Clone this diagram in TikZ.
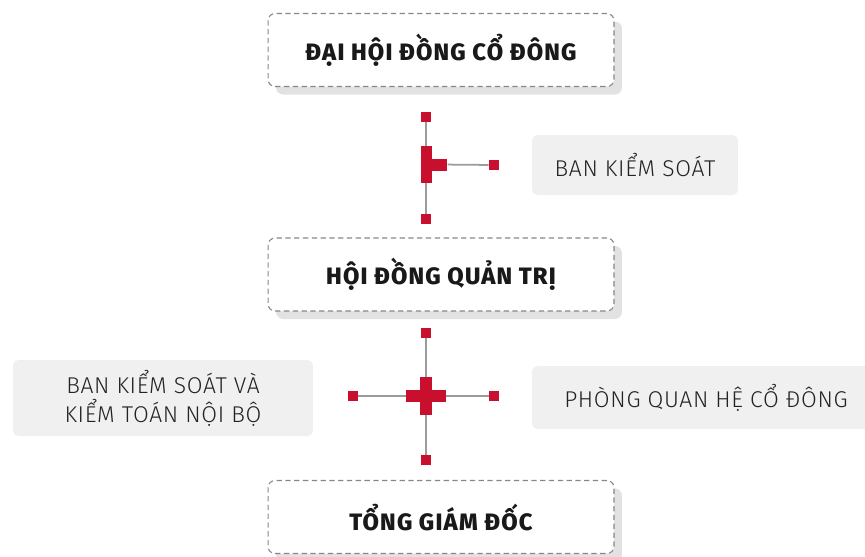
\documentclass[tikz,border=0pt]{standalone}
\usepackage{fontspec}
\setmainfont{Fira Sans}
\newfontfamily\titlefont{Fira Sans ExtraBold}[LetterSpace=5]
\newfontfamily\lightfont{Fira Sans Light}[LetterSpace=3]
\usetikzlibrary{positioning, shadows}
\definecolor{crimson}{RGB}{200,16,46}
\definecolor{boxgray}{RGB}{240,240,240}
\definecolor{shadowgray}{RGB}{226,226,226}
\definecolor{dashgray}{RGB}{135,135,135}
\definecolor{linegray}{RGB}{155,155,155}
\definecolor{textgray}{RGB}{35,35,35}
\tikzset{
  mainbox/.style={draw=dashgray, dash pattern=on 3pt off 2pt, line width=0.6pt, rounded corners=4pt,
    fill=white, minimum width=6.92cm, minimum height=1.46cm,
    drop shadow={shadow xshift=0.16cm, shadow yshift=-0.16cm, fill=shadowgray, opacity=1},
    font=\titlefont\fontsize{13.5}{16}\selectfont, text=black!90},
  sidebox/.style={fill=boxgray, rounded corners=3pt, align=center, text=textgray,
    font=\lightfont\fontsize{13}{16.5}\selectfont},
  sq/.style={fill=crimson, minimum size=0.2cm, inner sep=0pt},
  bar/.style={fill=crimson, inner sep=0pt},
  conn/.style={draw=linegray, line width=1pt}
}

\begin{document}
\begin{tikzpicture}[x=0.02cm, y=-0.02cm]
  \useasboundingbox (0,0) rectangle (865,556);

  % main boxes
  \node[mainbox] (dhcd) at (441,50) {ĐẠI HỘI ĐỒNG CỔ ĐÔNG};
  \node[mainbox] (hdqt) at (441,274.5) {HỘI ĐỒNG QUẢN TRỊ};
  \node[mainbox] (tgd) at (441,517) {TỔNG GIÁM ĐỐC};

  % side boxes
  \node[sidebox, minimum width=4.12cm, minimum height=1.2cm] (bks) at (635,165) {BAN KIỂM SOÁT};
  \node[sidebox, minimum width=6cm, minimum height=1.52cm] (ktnb) at (163,398) {BAN KIỂM SOÁT VÀ\\KIỂM TOÁN NỘI BỘ};
  \node[sidebox, minimum width=6.96cm, minimum height=1.26cm] (qhcd) at (706,397.5) {PHÒNG QUAN HỆ CỔ ĐÔNG};

  % end squares
  \foreach \n/\x/\y in {t1/426/117, b1/426/219, r1/494/165, t2/426/333, b2/426/460, l2/353/396, r2/494/396}
    \node[sq] (\n) at (\x,\y) {};

  \draw[conn] (t1) -- (b1);
  \draw[conn] (t2) -- (b2);
  \draw[conn] (l2) -- (r2);

  % junctions
  \node[bar, minimum width=0.22cm, minimum height=0.74cm] (j1) at (426,164.5) {};
  \node[bar, minimum width=0.3cm, minimum height=0.24cm, right=0pt of j1] (j1s) {};
  \draw[conn] (j1s) -- (r1);
  \node[bar, minimum width=0.24cm, minimum height=0.76cm] (j2v) at (426,396) {};
  \node[bar, minimum width=0.8cm, minimum height=0.24cm] (j2h) at (426,396) {};
\end{tikzpicture}
\end{document}
